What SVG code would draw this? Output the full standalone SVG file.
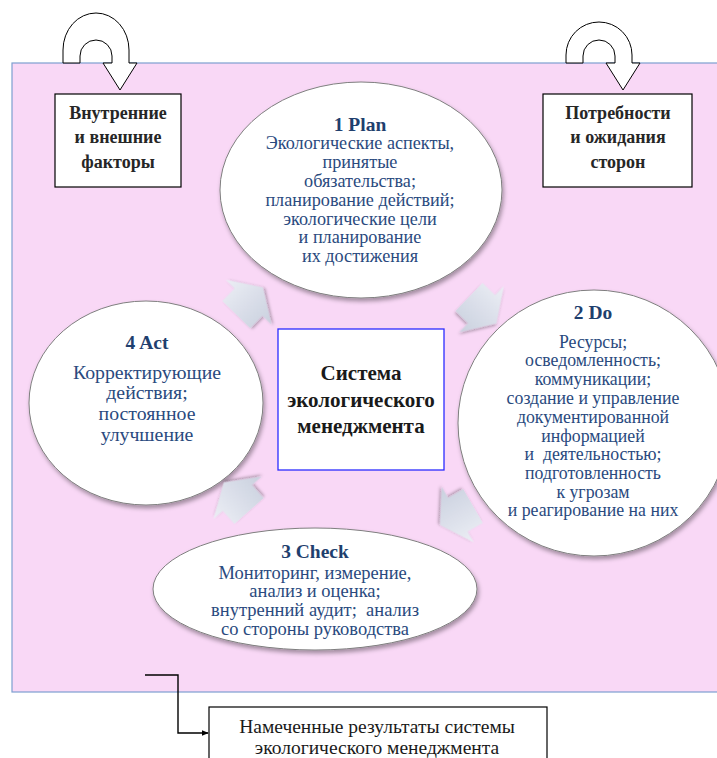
<svg xmlns="http://www.w3.org/2000/svg" width="717" height="758" viewBox="0 0 717 758">
<defs>
<linearGradient id="ag" x1="0" y1="0" x2="0" y2="1">
<stop offset="0" stop-color="#eceef5"/>
<stop offset="1" stop-color="#c9d0de"/>
</linearGradient>
<filter id="sh" x="-20%" y="-20%" width="140%" height="140%">
<feDropShadow dx="1.5" dy="3" stdDeviation="2" flood-color="#000" flood-opacity="0.35"/>
</filter>
<filter id="ash" x="-30%" y="-30%" width="160%" height="160%">
<feDropShadow dx="1" dy="2" stdDeviation="1.5" flood-color="#000" flood-opacity="0.3"/>
</filter>
<marker id="ah" viewBox="0 0 10 10" refX="9" refY="5" markerWidth="7" markerHeight="7" orient="auto" markerUnits="userSpaceOnUse">
<path d="M0,1 L10,5 L0,9 Z" fill="#000"/>
</marker>
<path id="blk" d="M0,-19.5 L17.5,-19.5 L17.5,-32 L38,0 L17.5,32 L17.5,19.5 L0,19.5 Z"/>
</defs>
<style>
.ell{fill:#ffffff;stroke:#7f7f7f;stroke-width:1;filter:url(#sh)}
.ht{font-family:"Liberation Serif",serif;font-weight:bold;fill:#1f3f6e;text-anchor:middle}
.bt{font-family:"Liberation Serif",serif;fill:#2a4a7e;text-anchor:middle}
.pre{white-space:pre}
.kt{font-family:"Liberation Serif",serif;font-weight:bold;fill:#262626;text-anchor:middle;font-size:18px}
.box{fill:#ffffff;stroke:#000;stroke-width:1.2}
.loop{fill:#ffffff;stroke:#000;stroke-width:1}
.barr{fill:url(#ag);filter:url(#ash)}
</style>

<rect x="0" y="0" width="717" height="758" fill="#ffffff"/>
<rect id="bg" x="12" y="63" width="712" height="629" fill="#f9d8f6" stroke="#7d9fd0" stroke-width="1.2"/>

<g id="loop-left">
<path class="loop" d="M63,63 L63,50 A33,37 0 0 1 129,50 L129,63 L137,63 L120,90 L103,63 L112,63 L112,56 A16,16 0 0 0 80,56 L80,63 Z"/>
</g>
<g id="loop-right">
<path class="loop" d="M566,63 L566,55 A33,33 0 0 1 632,55 L632,63 L640,63 L623,90 L606,63 L615,63 L615,56 A16,16 0 0 0 583,56 L583,63 Z"/>
</g>

<g id="factors">
<rect class="box" x="55" y="94" width="126" height="93"/>
<text class="kt" x="118" y="119">Внутренние</text>
<text class="kt" x="118" y="143">и внешние</text>
<text class="kt" x="118" y="168">факторы</text>
</g>

<g id="needs">
<rect class="box" x="543" y="94" width="149" height="93"/>
<text class="kt" x="618" y="119">Потребности</text>
<text class="kt" x="618" y="143">и ожидания</text>
<text class="kt" x="618" y="168">сторон</text>
</g>

<g id="plan">
<ellipse class="ell" cx="361" cy="190" rx="141" ry="108"/>
<text class="ht" x="360" y="131" font-size="19.5">1 Plan</text>
<g class="bt" font-size="18.2">
<text x="360" y="149">Экологические аспекты,</text>
<text x="360" y="168">принятые</text>
<text x="360" y="187">обязательства;</text>
<text x="360" y="206">планирование действий;</text>
<text x="360" y="225">экологические цели</text>
<text x="360" y="243">и планирование</text>
<text x="360" y="262">их достижения</text>
</g>
</g>

<g id="do">
<ellipse class="ell" cx="594" cy="423" rx="136" ry="133"/>
<text class="ht" x="593" y="319" font-size="19.5">2 Do</text>
<g class="bt" font-size="17.8">
<text x="593" y="348">Ресурсы;</text>
<text x="593" y="366">осведомленность;</text>
<text x="593" y="385">коммуникации;</text>
<text x="593" y="404">создание и управление</text>
<text x="593" y="423">документированной</text>
<text x="593" y="442">информацией</text>
<text class="pre" x="593" y="460">и  деятельностью;</text>
<text x="593" y="479">подготовленность</text>
<text x="593" y="498">к угрозам</text>
<text x="593" y="516">и реагирование на них</text>
</g>
</g>

<g id="check">
<ellipse class="ell" cx="315" cy="589" rx="162" ry="61"/>
<text class="ht" x="315" y="558" font-size="19.5">3 Check</text>
<g class="bt" font-size="18.5">
<text x="315" y="579">Мониторинг, измерение,</text>
<text x="315" y="597">анализ и оценка;</text>
<text class="pre" x="315" y="616">внутренний аудит;  анализ</text>
<text x="315" y="635">со стороны руководства</text>
</g>
</g>

<g id="act">
<ellipse class="ell" cx="146" cy="403" rx="117" ry="102"/>
<text class="ht" x="147" y="349" font-size="19.5">4 Act</text>
<g class="bt" font-size="19.8">
<text x="147" y="379">Корректирующие</text>
<text x="147" y="399">действия;</text>
<text x="147" y="420">постоянное</text>
<text x="147" y="441">улучшение</text>
</g>
</g>

<g id="ems">
<rect x="278" y="329" width="166" height="141" fill="#ffffff" stroke="#2b2bff" stroke-width="1.3"/>
<text class="kt" x="361" y="380" style="font-size:21px;fill:#1a1a1a">Система</text>
<text class="kt" x="361" y="407" style="font-size:21px;fill:#1a1a1a">экологического</text>
<text class="kt" x="361" y="433" style="font-size:21px;fill:#1a1a1a">менеджмента</text>
</g>

<g id="results">
<rect class="box" x="209" y="707" width="338" height="60"/>
<text x="377" y="733" font-family="Liberation Serif, serif" font-size="19.5" fill="#1a1a1a" text-anchor="middle">Намеченные результаты системы</text>
<text x="377" y="754" font-family="Liberation Serif, serif" font-size="19.5" fill="#1a1a1a" text-anchor="middle">экологического менеджмента</text>
</g>

<g id="connectors">
<use href="#blk" class="barr" transform="translate(236.3,314.6) rotate(-45.6)"/>
<use href="#blk" class="barr" transform="translate(469,297) rotate(44)"/>
<use href="#blk" class="barr" transform="translate(473,506) rotate(150)"/>
<use href="#blk" class="barr" transform="translate(249,511) rotate(-131.5)"/>
<path d="M145,675 L178,675 L178,733 L208,733" fill="none" stroke="#000" stroke-width="1.4" marker-end="url(#ah)"/>
</g>
</svg>
